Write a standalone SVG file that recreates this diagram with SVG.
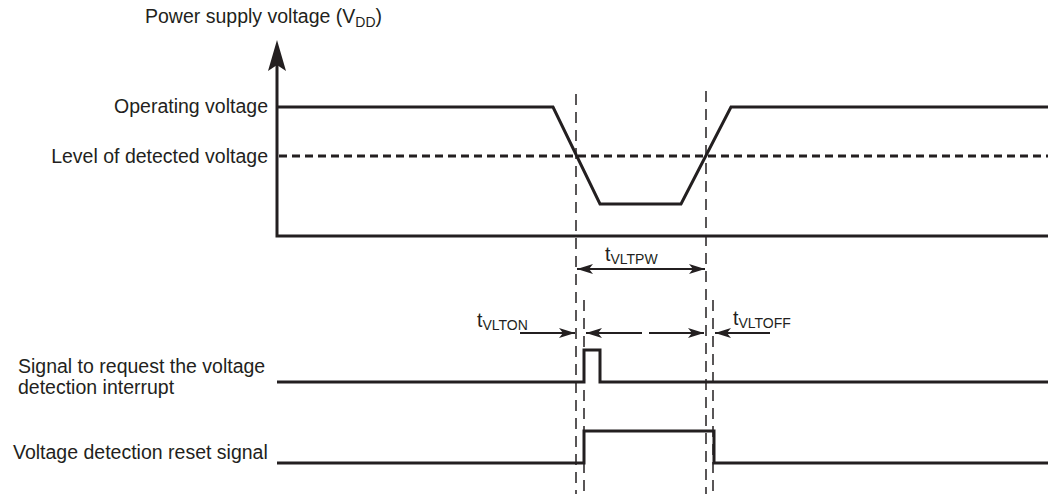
<svg xmlns="http://www.w3.org/2000/svg" width="1048" height="494" viewBox="0 0 1048 494">
<style>
text{font-family:"Liberation Sans",Arial,sans-serif;font-size:19.5px;fill:#231f20}
.sub{font-size:14px}
.thick{fill:none;stroke:#231f20;stroke-width:3;stroke-linejoin:miter}
.lvl{fill:none;stroke:#231f20;stroke-width:3;stroke-dasharray:8 5}
.vd{fill:none;stroke:#231f20;stroke-width:1.5;stroke-dasharray:11 7}
.arr{fill:none;stroke:#231f20;stroke-width:2}
</style>
<defs>
<marker id="ah" markerUnits="userSpaceOnUse" viewBox="0 0 16 10" refX="16" refY="5" markerWidth="16" markerHeight="10" orient="auto-start-reverse">
<path d="M0,0 L16,5 L0,10 L4,5 Z" fill="#231f20"/>
</marker>
</defs>
<rect width="1048" height="494" fill="#ffffff"/>
<g id="axes">
<path class="thick" d="M277,62 V236 H1048"/>
<path d="M277,40 L286,71 L277,65 L268,71 Z" fill="#231f20"/>
<text x="145" y="23">Power supply voltage (V<tspan class="sub" dy="4">DD</tspan><tspan dy="-4">)</tspan></text>
</g>
<g id="vdd-waveform">
<text x="268" y="113" text-anchor="end">Operating voltage</text>
<text x="268" y="163" text-anchor="end">Level of detected voltage</text>
<path class="lvl" d="M279,156 H1048"/>
<path class="thick" d="M277,107 H553 L600,204 H681 L731,107 H1048"/>
</g>
<g id="interrupt-signal">
<text x="18" y="373">Signal to request the voltage</text>
<text x="18" y="394">detection interrupt</text>
<path class="thick" d="M277,382 H584 V350 H600 V382 H1048"/>
</g>
<g id="reset-signal">
<text x="13" y="459">Voltage detection reset signal</text>
<path class="thick" d="M277,463 H584 V431 H714 V463 H1048"/>
</g>
<g id="guides">
<line class="vd" x1="576" y1="94" x2="576" y2="494"/>
<line class="vd" x1="706" y1="91" x2="706" y2="494"/>
<line class="vd" x1="584" y1="300" x2="584" y2="494"/>
<line class="vd" x1="713" y1="300" x2="713" y2="494"/>
</g>
<g id="connectors">
<line class="arr" x1="577" y1="269" x2="705" y2="269" marker-start="url(#ah)" marker-end="url(#ah)"/>
<line class="arr" x1="520" y1="333" x2="575" y2="333" marker-end="url(#ah)"/>
<line class="arr" x1="770" y1="333" x2="715" y2="333" marker-end="url(#ah)"/>
<line class="arr" x1="586" y1="333" x2="642" y2="333" marker-start="url(#ah)"/>
<line class="arr" x1="649" y1="333" x2="704" y2="333" marker-end="url(#ah)"/>
</g>
<g id="labels">
<text x="605" y="261">t<tspan class="sub" dy="3">VLTPW</tspan></text>
<text x="477" y="327">t<tspan class="sub" dy="3">VLTON</tspan></text>
<text x="733" y="325">t<tspan class="sub" dy="3">VLTOFF</tspan></text>
</g>
</svg>
